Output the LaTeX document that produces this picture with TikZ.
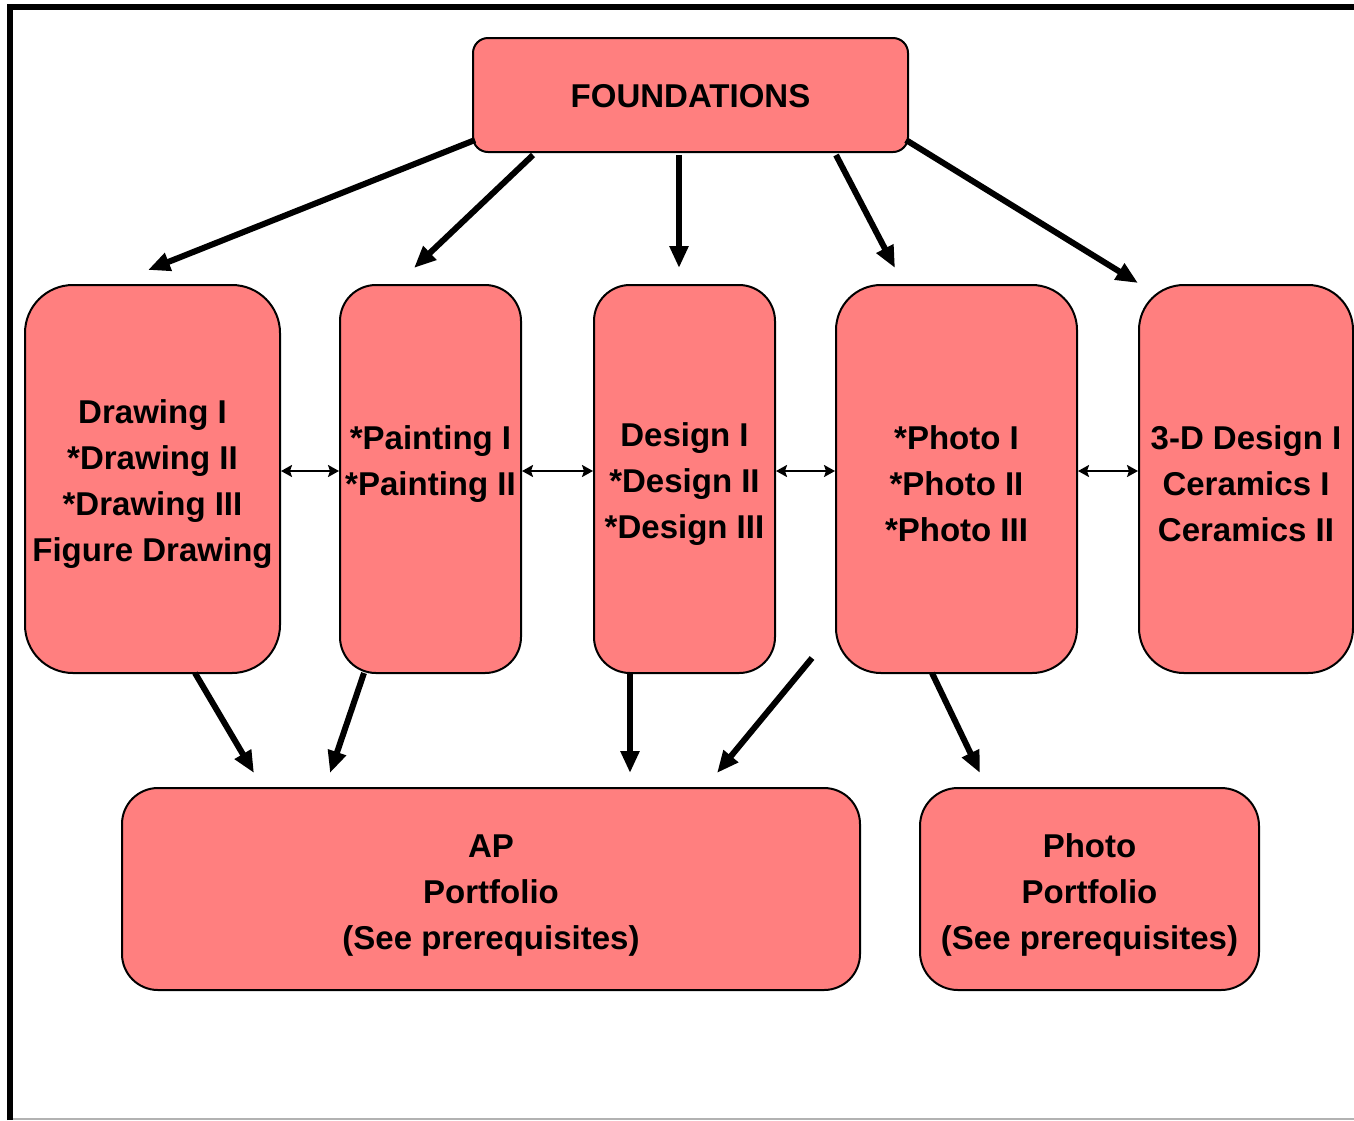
\documentclass[tikz,border=0pt]{standalone}
\usepackage{fontspec}
\setmainfont{Liberation Sans}
\usetikzlibrary{arrows.meta}
\definecolor{boxpink}{HTML}{FF7F7F}
\newcommand{\tstrut}{\rule{0pt}{33pt}}
\newcommand{\bstrut}{\rule{0pt}{36pt}}
\begin{document}
\begin{tikzpicture}[x=1pt,y=-1pt,
  box/.style={draw=black, line width=2pt, fill=boxpink, align=center,
    font=\fontsize{33}{46}\selectfont\bfseries, inner sep=0pt},
  bigarrow/.style={line width=6pt, -{Triangle[length=22pt,width=18pt]}},
  dblarrow/.style={line width=2pt, {Stealth[length=11pt,width=12pt,inset=2pt]}-{Stealth[length=11pt,width=12pt,inset=2pt]}}
]
\useasboundingbox (0,0) rectangle (1354,1120);
\fill[white] (0,0) rectangle (1354,1120);
% frame
\draw[line width=6pt, line join=miter] (10,1120) -- (10,7) -- (1354,7);
\draw[black!30, line width=1.5pt] (13,1119.2) -- (1354,1119.2);

% boxes
\node[box, minimum width=435pt, minimum height=114pt, rounded corners=15pt] (found) at (690.5,95) {\rule{0pt}{26pt}FOUNDATIONS};
\node[box, minimum width=255pt, minimum height=388pt, rounded corners=48pt] (draw) at (152.5,479) {\tstrut Drawing I\\*Drawing II\\*Drawing III\\Figure Drawing};
\node[box, minimum width=181pt, minimum height=388pt, rounded corners=36pt] (paint) at (430.5,479) {\tstrut *Painting I\\*Painting II\\\mbox{}};
\node[box, minimum width=181pt, minimum height=388pt, rounded corners=36pt] (design) at (684.5,479) {\tstrut Design I\\*Design II\\*Design III};
\node[box, minimum width=241pt, minimum height=388pt, rounded corners=45pt] (photo) at (956.5,479) {\tstrut *Photo I\\*Photo II\\*Photo III};
\node[box, minimum width=214pt, minimum height=388pt, rounded corners=45pt] (three) at (1246,479) {\tstrut 3-D Design I\\Ceramics I\\Ceramics II};
\node[box, minimum width=738pt, minimum height=202pt, rounded corners=36pt] (ap) at (491,889) {\bstrut AP\\Portfolio\\(See prerequisites)};
\node[box, minimum width=339pt, minimum height=202pt, rounded corners=38pt] (pp) at (1089.5,889) {\bstrut Photo\\Portfolio\\(See prerequisites)};

% arrow end points
\coordinate (a1s) at (475,140); \coordinate (a1e) at (148,270);
\coordinate (a2s) at (533,155); \coordinate (a2e) at (414,268);
\coordinate (a3s) at (679,155); \coordinate (a3e) at (679,268);
\coordinate (a4s) at (836,155); \coordinate (a4e) at (895,268);
\coordinate (a5s) at (906,140); \coordinate (a5e) at (1138,283);
\coordinate (b1s) at (195,673); \coordinate (b1e) at (254,773);
\coordinate (b2s) at (364,673); \coordinate (b2e) at (330,773);
\coordinate (b3s) at (630,673); \coordinate (b3e) at (630,773);
\coordinate (b4s) at (812,658); \coordinate (b4e) at (717,773);
\coordinate (b5s) at (932,673); \coordinate (b5e) at (980,773);

\draw[bigarrow] (a1s) -- (a1e);
\draw[bigarrow] (a2s) -- (a2e);
\draw[bigarrow] (a3s) -- (a3e);
\draw[bigarrow] (a4s) -- (a4e);
\draw[bigarrow] (a5s) -- (a5e);
\draw[bigarrow] (b1s) -- (b1e);
\draw[bigarrow] (b2s) -- (b2e);
\draw[bigarrow] (b3s) -- (b3e);
\draw[bigarrow] (b4s) -- (b4e);
\draw[bigarrow] (b5s) -- (b5e);

% double arrows
\draw[dblarrow] ([yshift=8pt]draw.east) -- ([yshift=8pt]paint.west);
\draw[dblarrow] ([yshift=8pt]paint.east) -- ([yshift=8pt]design.west);
\draw[dblarrow] ([yshift=8pt]design.east) -- ([yshift=8pt]photo.west);
\draw[dblarrow] ([yshift=8pt]photo.east) -- ([yshift=8pt]three.west);
\end{tikzpicture}
\end{document}
